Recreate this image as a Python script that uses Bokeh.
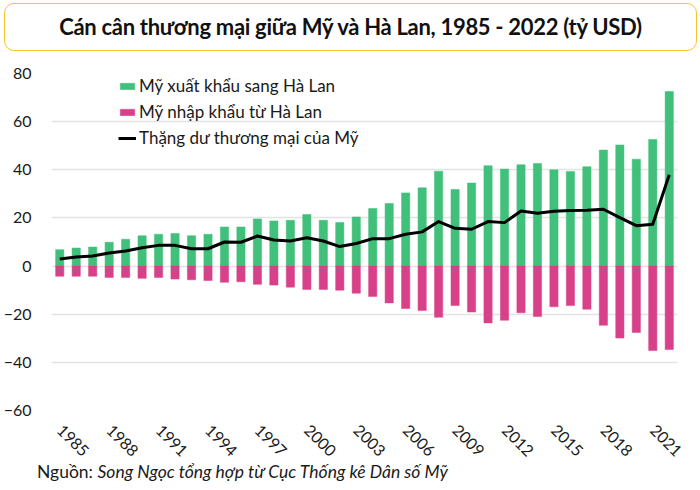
from math import pi
from bokeh.plotting import figure
from bokeh.models import (Range1d, FixedTicker, Legend, LegendItem, Div,
                          ColumnDataSource)
from bokeh.layouts import column
from bokeh.embed import file_html
from bokeh.resources import INLINE

# ---- data (tỷ USD) ----
years = list(range(1985, 2023))
exports = [6.8, 7.5, 7.9, 9.9, 11.1, 12.6, 13.2, 13.5, 12.6, 13.2,
           16.25, 16.25, 19.6, 18.75, 19.0, 21.4, 19.0, 18.05, 20.4, 23.9,
           26.0, 30.4, 32.5, 39.4, 31.8, 34.5, 41.7, 40.3, 42.1, 42.6,
           40.0, 39.3, 41.25, 48.2, 50.3, 44.4, 52.6, 72.5]
imports = [-4.2, -4.2, -4.2, -4.7, -4.7, -5.1, -4.7, -5.4, -5.7, -6.0,
           -6.7, -6.5, -7.6, -7.9, -8.75, -9.7, -9.7, -10.0, -11.25, -12.6,
           -15.3, -17.6, -18.5, -21.25, -16.4, -19.1, -23.6, -22.5, -19.4, -21.0,
           -16.9, -16.4, -17.9, -24.6, -29.9, -27.6, -35.1, -34.7]
surplus = [2.9, 3.75, 4.2, 5.4, 6.25, 7.6, 8.6, 8.6, 7.2, 7.2,
           10.0, 9.9, 12.5, 10.8, 10.4, 11.8, 10.4, 8.1, 9.4, 11.4,
           11.4, 13.2, 14.2, 18.5, 15.7, 15.3, 18.5, 18.05, 22.9, 21.9,
           22.8, 23.1, 23.2, 23.6, 20.1, 16.8, 17.4, 37.9]
x_ticks = list(range(1985, 2023, 3))
y_ticks = [-60, -40, -20, 0, 20, 40, 60, 80]

title_text = "Cán cân thương mại giữa Mỹ và Hà Lan, 1985 - 2022 (tỷ USD)"
legend_labels = ["Mỹ xuất khẩu sang Hà Lan", "Mỹ nhập khẩu từ Hà Lan",
                 "Thặng dư thương mại của Mỹ"]
source_prefix = "Nguồn:"
source_text = "Song Ngọc tổng hợp từ Cục Thống kê Dân số Mỹ"

GREEN = "#40c07a"
PINK = "#d9408a"
FONT = "Lato"
TXT = "#1a1a1a"

src = ColumnDataSource(dict(year=years, exp=exports, imp=imports, sur=surplus))

title_div = Div(
    text=(f'<div style="width:693px;height:48px;box-sizing:border-box;'
          f'border:1.5px solid #f5c52e;border-radius:10px;display:flex;'
          f'align-items:center;justify-content:center;font-family:Lato;'
          f'font-size:22px;font-weight:bold;color:#111;letter-spacing:-0.3px;">'
          f'{title_text}</div>'),
    width=693, height=48, margin=(3, 0, 0, 4))

p = figure(width=692, height=413, output_backend="svg", toolbar_location=None,
           x_range=Range1d(1984.5, 2022.5), y_range=Range1d(-60, 80),
           min_border_left=45, min_border_right=15, min_border_top=22,
           min_border_bottom=54, outline_line_color=None, margin=0)

r_exp = p.vbar(x="year", top="exp", width=0.5, source=src,
               fill_color=GREEN, line_color=GREEN, line_alpha=0.5)
r_imp = p.vbar(x="year", top="imp", width=0.5, source=src,
               fill_color=PINK, line_color=PINK, line_alpha=0.5)
r_sur = p.line(x="year", y="sur", source=src, line_color="black",
               line_width=3, line_join="round")

p.xgrid.visible = False
p.ygrid.grid_line_color = "#e3e3e3"
p.ygrid.grid_line_width = 1.5

for ax in (p.xaxis, p.yaxis):
    ax.axis_line_color = None
    ax.major_tick_line_color = None
    ax.minor_tick_line_color = None
    ax.major_label_text_font = FONT
    ax.major_label_text_font_size = "16px"
    ax.major_label_text_color = TXT

p.xaxis.ticker = FixedTicker(ticks=x_ticks)
p.xaxis.major_label_orientation = -pi / 4
p.xaxis.major_label_standoff = 11
p.yaxis.ticker = FixedTicker(ticks=y_ticks)
p.yaxis.major_label_standoff = 14

legend = Legend(items=[LegendItem(label=legend_labels[0], renderers=[r_exp]),
                       LegendItem(label=legend_labels[1], renderers=[r_imp]),
                       LegendItem(label=legend_labels[2], renderers=[r_sur])],
                location=(67, 262), padding=0, spacing=5, label_height=21,
                glyph_width=18, glyph_height=8, label_standoff=3,
                border_line_alpha=0, background_fill_alpha=0,
                label_text_font=FONT, label_text_font_size="17px",
                label_text_color=TXT)
p.add_layout(legend)

source_div = Div(
    text=(f'<div style="width:692px;height:16px;line-height:16px;'
          f'box-sizing:border-box;padding-left:37px;'
          f'font-family:Lato;font-size:17.5px;color:{TXT};white-space:nowrap;">'
          f'{source_prefix}&nbsp;<i>{source_text}</i></div>'),
    width=692, height=16, margin=0)

layout = column(title_div, p, source_div)
open("out.html", "w").write(file_html(layout, INLINE))
